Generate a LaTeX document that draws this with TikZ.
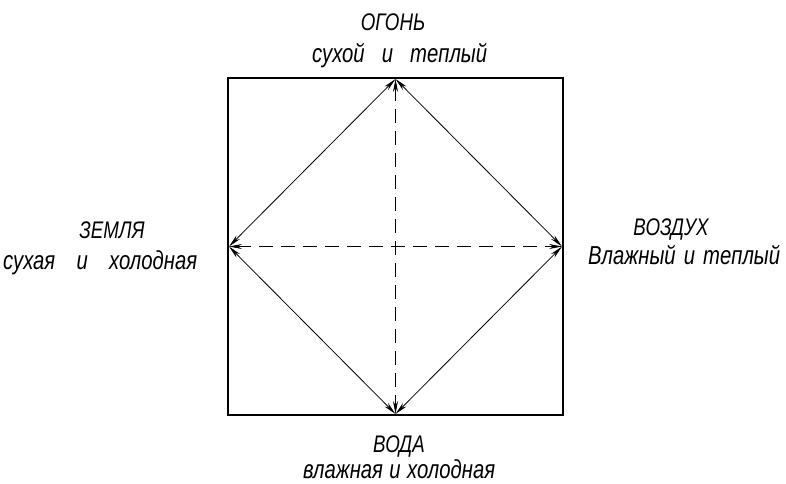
\documentclass[tikz,border=0pt]{standalone}
\usepackage{fontspec}
\setmainfont{Liberation Sans}[FakeStretch=0.78]
\usetikzlibrary{arrows.meta}
\begin{document}
\begin{tikzpicture}[x=1pt,y=-1pt,
  capl/.style={font=\fontsize{24}{26}\selectfont\itshape, inner sep=0pt, anchor=base},
  lowl/.style={font=\fontsize{26}{28}\selectfont\itshape, inner sep=0pt, anchor=base west},
  frame/.style={line width=2pt},
  link/.style={line width=0.8pt, {Stealth[length=13pt,width=5pt]}-{Stealth[length=13pt,width=5pt]}},
  dlink/.style={link, dash pattern=on 14pt off 8pt}]
\useasboundingbox (0,0) rectangle (786,483);
\draw[frame] (228,78) rectangle (563,415);
\coordinate (T) at (395.5,79);
\coordinate (B) at (395.5,414);
\coordinate (L) at (229,246.5);
\coordinate (R) at (562,246.5);
\draw[link] (T) -- (L);
\draw[link] (T) -- (R);
\draw[link] (B) -- (L);
\draw[link] (B) -- (R);
\draw[dlink] (T) -- (B);
\draw[dlink] (L) -- (R);
\node[capl] (fire) at (393,30) {ОГОНЬ};
\node[lowl] (firep) at (312,62) {\makebox[175pt][s]{сухой\hfill и\hfill теплый}};
\node[capl] (earth) at (112,238) {ЗЕМЛЯ};
\node[lowl] (earthp) at (3,269) {\makebox[194pt][s]{сухая\hfill и\hfill холодная}};
\node[capl] (air) at (671,235) {ВОЗДУХ};
\node[lowl] (airp) at (588,264) {\makebox[192pt][s]{Влажный\hfill и\hfill теплый}};
\node[capl] (water) at (399,452) {ВОДА};
\node[lowl] (waterp) at (303,478) {\makebox[192pt][s]{влажная\hfill и\hfill холодная}};
\end{tikzpicture}
\end{document}
